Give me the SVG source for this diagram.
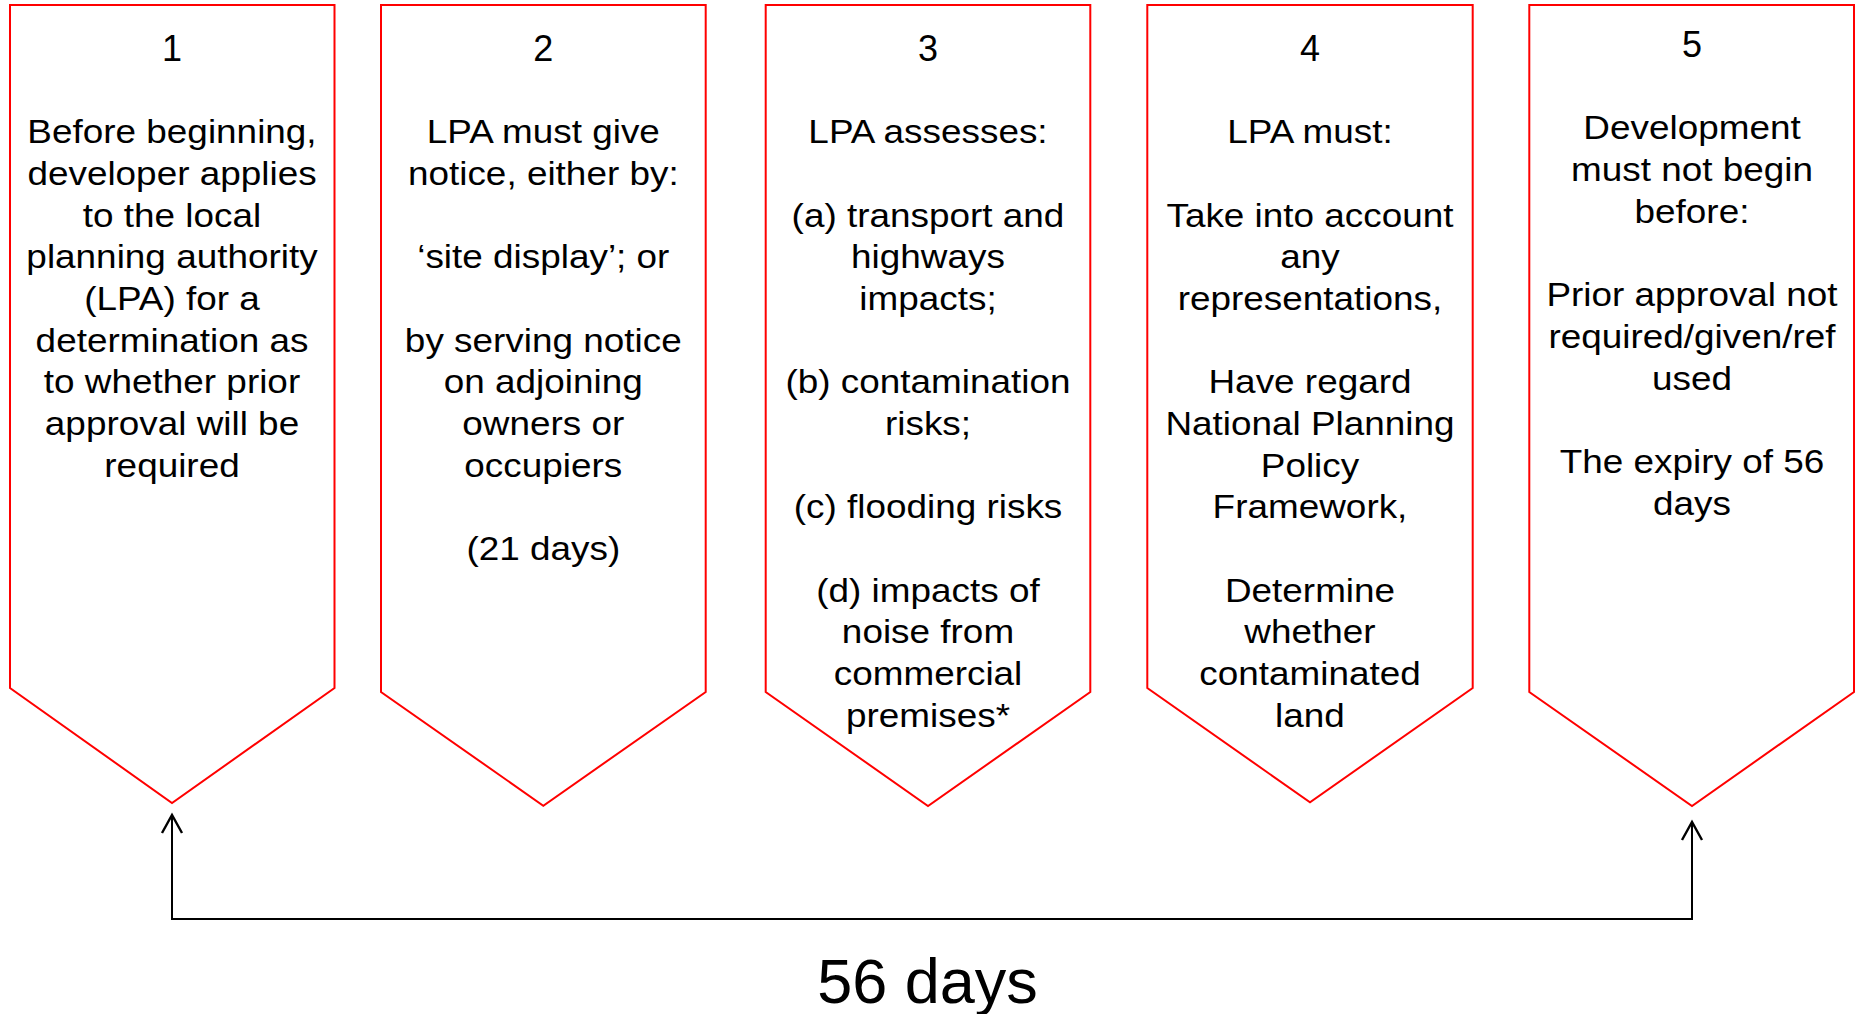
<svg xmlns="http://www.w3.org/2000/svg" width="1857" height="1014" viewBox="0 0 1857 1014">
<style>
.box{fill:#fff;stroke:#ff0000;stroke-width:2}
.t{font-family:"Liberation Sans",Arial,sans-serif;font-size:32.8px;fill:#000;text-anchor:middle}
.n{font-family:"Liberation Sans",Arial,sans-serif;font-size:36px;fill:#000;text-anchor:middle}
.big{font-family:"Liberation Sans",Arial,sans-serif;font-size:63px;fill:#000;text-anchor:middle}
.conn{fill:none;stroke:#000;stroke-width:2}
</style>
<defs>
<marker id="open" viewBox="0 0 24 24" refX="20" refY="12" markerWidth="24" markerHeight="24" markerUnits="userSpaceOnUse" orient="auto-start-reverse">
<path d="M2 2 L20 12 L2 22" fill="none" stroke="#000" stroke-width="2.4"/>
</marker>
</defs>
<rect width="1857" height="1014" fill="#fff"/>
<g id="node1">
<polygon class="box" points="10,5 334.5,5 334.5,688 172,803 10,688"/>
<text class="n" x="172" y="61">1</text>
<g transform="translate(172 0) scale(1.125 1)">
<text class="t" x="0" y="143.3">Before beginning,</text>
<text class="t" x="0" y="185">developer applies</text>
<text class="t" x="0" y="226.7">to the local</text>
<text class="t" x="0" y="268.4">planning authority</text>
<text class="t" x="0" y="310">(LPA) for a</text>
<text class="t" x="0" y="351.7">determination as</text>
<text class="t" x="0" y="393.4">to whether prior</text>
<text class="t" x="0" y="435">approval will be</text>
<text class="t" x="0" y="476.8">required</text>
</g>
</g>
<g id="node2">
<polygon class="box" points="381,5 705.7,5 705.7,692 543.3,805.7 381,692"/>
<text class="n" x="543.3" y="61">2</text>
<g transform="translate(543.3 0) scale(1.125 1)">
<text class="t" x="0" y="143.3">LPA must give</text>
<text class="t" x="0" y="185">notice, either by:</text>
<text class="t" x="0" y="268.4">‘site display’; or</text>
<text class="t" x="0" y="351.7">by serving notice</text>
<text class="t" x="0" y="393.4">on adjoining</text>
<text class="t" x="0" y="435">owners or</text>
<text class="t" x="0" y="476.8">occupiers</text>
<text class="t" x="0" y="560">(21 days)</text>
</g>
</g>
<g id="node3">
<polygon class="box" points="765.7,5 1090.3,5 1090.3,692 928,806 765.7,692"/>
<text class="n" x="928" y="61">3</text>
<g transform="translate(928 0) scale(1.125 1)">
<text class="t" x="0" y="143.3">LPA assesses:</text>
<text class="t" x="0" y="226.7">(a) transport and</text>
<text class="t" x="0" y="268.4">highways</text>
<text class="t" x="0" y="310">impacts;</text>
<text class="t" x="0" y="393.4">(b) contamination</text>
<text class="t" x="0" y="435">risks;</text>
<text class="t" x="0" y="518.4">(c) flooding risks</text>
<text class="t" x="0" y="601.7">(d) impacts of</text>
<text class="t" x="0" y="643.4">noise from</text>
<text class="t" x="0" y="685">commercial</text>
<text class="t" x="0" y="726.8">premises*</text>
</g>
</g>
<g id="node4">
<polygon class="box" points="1147.3,5 1472.7,5 1472.7,688 1310,802.3 1147.3,688"/>
<text class="n" x="1310" y="61">4</text>
<g transform="translate(1310 0) scale(1.125 1)">
<text class="t" x="0" y="143.3">LPA must:</text>
<text class="t" x="0" y="226.7">Take into account</text>
<text class="t" x="0" y="268.4">any</text>
<text class="t" x="0" y="310">representations,</text>
<text class="t" x="0" y="393.4">Have regard</text>
<text class="t" x="0" y="435">National Planning</text>
<text class="t" x="0" y="476.8">Policy</text>
<text class="t" x="0" y="518.4">Framework,</text>
<text class="t" x="0" y="601.7">Determine</text>
<text class="t" x="0" y="643.4">whether</text>
<text class="t" x="0" y="685">contaminated</text>
<text class="t" x="0" y="726.8">land</text>
</g>
</g>
<g id="node5">
<polygon class="box" points="1529.3,5 1854,5 1854,692 1692,806 1529.3,692"/>
<text class="n" x="1692" y="57">5</text>
<g transform="translate(1692 0) scale(1.125 1)">
<text class="t" x="0" y="139.5">Development</text>
<text class="t" x="0" y="181.2">must not begin</text>
<text class="t" x="0" y="222.9">before:</text>
<text class="t" x="0" y="306.3">Prior approval not</text>
<text class="t" x="0" y="348">required/given/ref</text>
<text class="t" x="0" y="389.7">used</text>
<text class="t" x="0" y="473.1">The expiry of 56</text>
<text class="t" x="0" y="514.8">days</text>
</g>
</g>
<g id="connectors">
<path class="conn" d="M172 815 V919 H1692 V822" marker-start="url(#open)" marker-end="url(#open)"/>
</g>
<g id="label">
<text class="big" x="927.5" y="1003">56 days</text>
</g>
</svg>
